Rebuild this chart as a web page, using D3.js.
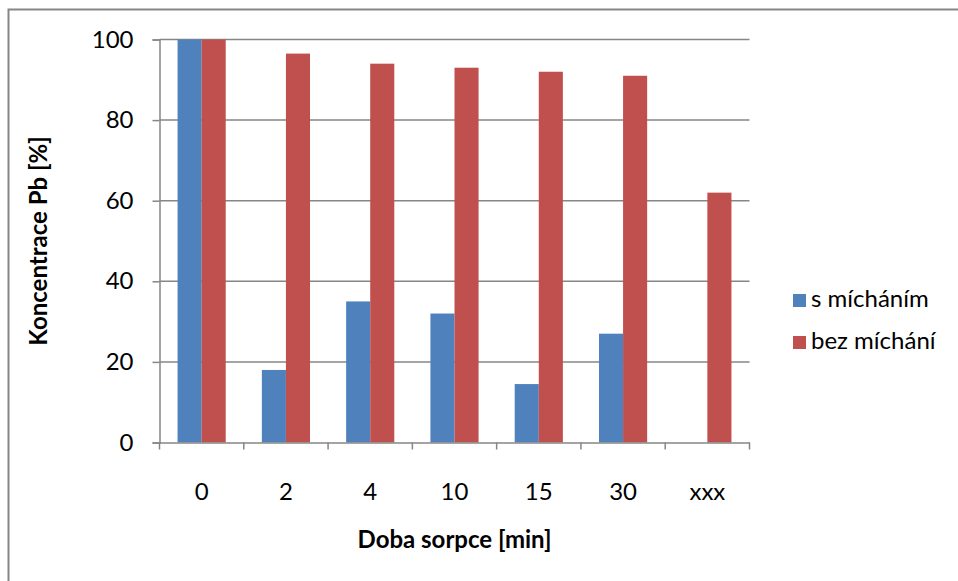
<!DOCTYPE html>
<html>
<head>
<meta charset="utf-8">
<script src="https://cdn.jsdelivr.net/npm/d3@7"></script>
<style>
  html, body { margin: 0; padding: 0; background: #fff; }
  svg text { font-family: Lato, "Open Sans", sans-serif; fill: #000; }
</style>
</head>
<body>
<svg id="chart" width="958" height="581"></svg>
<script>
// Sorption time categories and lead concentration (%) for both setups
const categories = ["0", "2", "4", "10", "15", "30", "xxx"];
const withStirring = [100, 18, 35, 32, 14.5, 27, null];
const withoutStirring = [100, 96.5, 94, 93, 92, 91, 62];
const seriesNames = ["s mícháním", "bez míchání"];
const seriesColors = ["#4F81BD", "#C0504D"];
const yTicks = [0, 20, 40, 60, 80, 100];

const svg = d3.select("#chart");
const margin = { left: 159.5, right: 749.5, top: 39.5, bottom: 442.5 };
const fs = "24px";

// outer chart frame
svg.append("rect")
  .attr("x", 8.5).attr("y", 9.5)
  .attr("width", 970).attr("height", 600)
  .attr("fill", "none").attr("stroke", "#868686").attr("stroke-width", 2);

const x = d3.scaleBand().domain(categories).range([margin.left, margin.right]).paddingInner(0).paddingOuter(0);
const y = d3.scaleLinear().domain([0, 100]).range([margin.bottom, margin.top]);

// horizontal gridlines
svg.append("g").selectAll("line").data(yTicks.filter(d => d > 0)).join("line")
  .attr("x1", margin.left).attr("x2", margin.right)
  .attr("y1", d => y(d)).attr("y2", d => y(d))
  .attr("stroke", "#868686").attr("stroke-width", 1.5);

// grouped bars: bar width = band / (2 + 1.5 gap)
const bw = x.bandwidth() / 3.5;
const groupOffset = x.bandwidth() * 0.75 / 3.5;
const series = [withStirring, withoutStirring];
series.forEach((vals, si) => {
  svg.append("g").selectAll("rect")
    .data(categories.map((c, i) => ({ c, v: vals[i] })).filter(d => d.v != null))
    .join("rect")
    .attr("x", d => x(d.c) + groupOffset + si * bw)
    .attr("y", d => y(d.v))
    .attr("width", bw)
    .attr("height", d => y(0) - y(d.v))
    .attr("fill", seriesColors[si]);
});

// y axis
const yAxis = svg.append("g")
  .attr("transform", `translate(${margin.left},0)`)
  .call(d3.axisLeft(y).tickValues(yTicks).tickSize(7).tickPadding(19).tickFormat(d3.format("d")));
yAxis.select(".domain").attr("stroke", "#868686").attr("stroke-width", 1.5);
yAxis.selectAll(".tick line").attr("stroke", "#868686").attr("stroke-width", 1.5);
yAxis.selectAll(".tick text").style("font-size", fs);

// x axis with ticks at category boundaries
const xAxis = svg.append("g")
  .attr("transform", `translate(0,${margin.bottom})`)
  .call(d3.axisBottom(x).tickSize(0).tickPadding(40));
xAxis.select(".domain").attr("stroke", "#868686").attr("stroke-width", 1.5);
xAxis.selectAll(".tick text").style("font-size", fs);
const bounds = categories.map(c => x(c)).concat([margin.right]);
svg.append("g").selectAll("line").data(bounds).join("line")
  .attr("x1", d => d).attr("x2", d => d)
  .attr("y1", margin.bottom).attr("y2", margin.bottom + 7)
  .attr("stroke", "#868686").attr("stroke-width", 1.5);

// axis titles
svg.append("text")
  .attr("x", (margin.left + margin.right) / 2).attr("y", 548)
  .attr("text-anchor", "middle")
  .style("font-size", fs).style("font-weight", "bold")
  .text("Doba sorpce [min]");
svg.append("text")
  .attr("transform", `translate(47,${(margin.top + margin.bottom) / 2}) rotate(-90)`)
  .attr("text-anchor", "middle")
  .style("font-size", fs).style("font-weight", "bold")
  .text("Koncentrace Pb [%]");

// legend
const legend = svg.append("g");
seriesNames.forEach((name, i) => {
  const ly = 294 + i * 42;
  legend.append("rect").attr("x", 793).attr("y", ly).attr("width", 13).attr("height", 13).attr("fill", seriesColors[i]);
  legend.append("text").attr("x", 811).attr("y", ly + 13).style("font-size", fs).text(name);
});
</script>
</body>
</html>
